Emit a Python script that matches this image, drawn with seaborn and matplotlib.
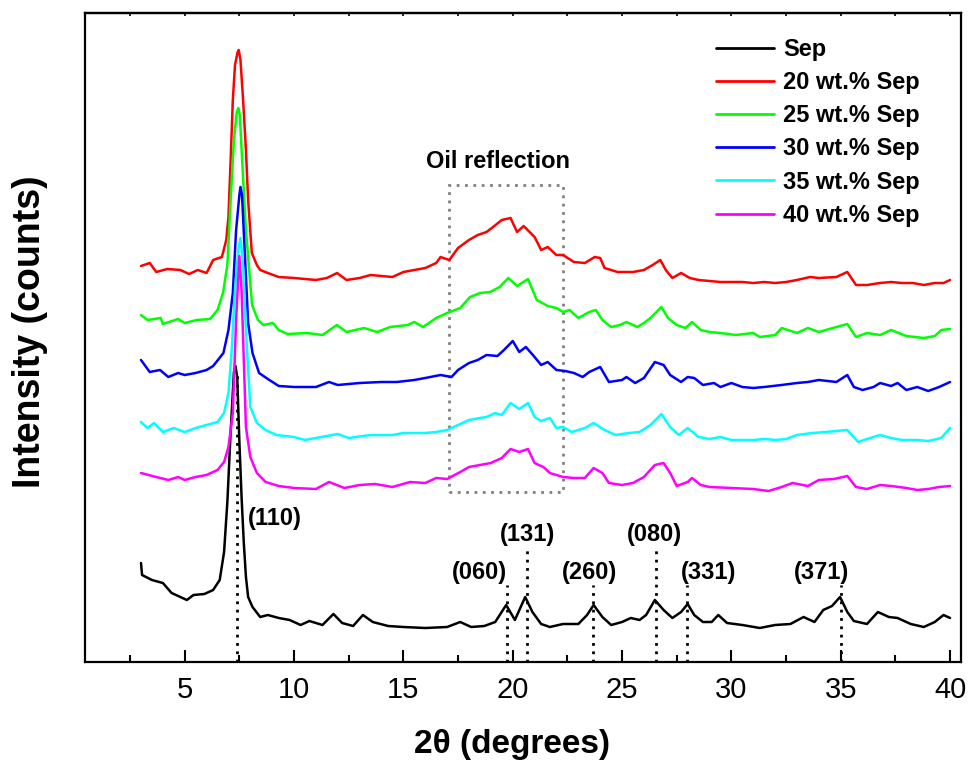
import numpy as np
import pandas as pd
import matplotlib
matplotlib.use("Agg")
import matplotlib.pyplot as plt
import seaborn as sns
from matplotlib.patches import Rectangle
from matplotlib.ticker import MultipleLocator

# ---------------- data (arbitrary intensity units) ----------------
samples = ["Sep", "20 wt.% Sep", "25 wt.% Sep", "30 wt.% Sep", "35 wt.% Sep", "40 wt.% Sep"]
colors = ["#000000", "#ff0000", "#00ff00", "#0000ff", "#00ffff", "#ff00ff"]

x_sep = [3.0, 3.05, 3.5, 4.0, 4.4, 4.8, 5.1, 5.4, 5.9, 6.3, 6.6, 6.8, 6.95, 7.1, 7.25, 7.32, 7.4, 7.5, 7.6, 7.7,
         7.8, 7.9, 8.1, 8.45, 8.8, 9.3, 9.8, 10.3, 10.7, 11.3, 11.8, 12.2, 12.7, 13.15, 13.6, 14.3, 15.0, 16.0, 17.0, 17.6,
         18.1, 18.7, 19.2, 19.7, 20.1, 20.57, 20.9, 21.3, 21.7, 22.3, 23.0, 23.4, 23.7, 24.1, 24.5, 25.0, 25.4, 25.8, 26.1, 26.5,
         26.9, 27.3, 27.7, 28.0, 28.3, 28.7, 29.1, 29.4, 29.8, 30.5, 31.3, 32.0, 32.7, 33.3, 33.8, 34.2, 34.6, 34.97, 35.3, 35.6,
         36.2, 36.7, 37.2, 37.6, 38.2, 38.8, 39.3, 39.7, 40.0]
y_sep = [99, 87, 82, 79, 69, 65, 62, 67, 68, 72, 82, 110, 160, 230, 290, 296, 285, 220, 165, 120,
         85, 65, 55, 45, 47, 44, 42, 37, 41, 37, 48, 39, 36, 47, 40, 36, 35, 34, 35, 40,
         35, 36, 40, 57, 42, 65, 50, 38, 35, 38, 38, 47, 57, 45, 37, 40, 44, 42, 47, 62,
         52, 44, 50, 58, 47, 40, 40, 47, 39, 37, 34, 37, 38, 45, 40, 52, 56, 65, 50, 41,
         38, 50, 45, 44, 38, 35, 40, 47, 44]

x_20 = [3.0, 3.4, 3.7, 4.2, 4.8, 5.2, 5.6, 6.0, 6.3, 6.7, 6.9, 7.0, 7.1, 7.2, 7.3, 7.42, 7.47, 7.55, 7.67, 7.8,
        7.9, 8.07, 8.3, 8.45, 8.8, 9.3, 10.0, 11.0, 11.5, 11.97, 12.4, 13.0, 13.5, 14.5, 15.0, 16.0, 16.5, 16.7, 17.1, 17.5,
        18.0, 18.4, 18.8, 19.1, 19.5, 19.9, 20.2, 20.5, 21.0, 21.3, 21.6, 22.0, 22.3, 22.8, 23.3, 23.75, 24.0, 24.2, 24.8, 25.5,
        26.0, 26.4, 26.75, 27.0, 27.3, 27.7, 28.1, 28.5, 29.5, 30.5, 31.0, 31.5, 32.0, 32.5, 33.0, 33.6, 34.0, 34.8, 35.3, 35.7,
        36.2, 36.8, 37.3, 37.8, 38.3, 38.8, 39.3, 39.7, 40.0]
y_20 = [396, 399, 390, 393, 392, 388, 392, 389, 402, 405, 422, 445, 502, 562, 597, 610, 612, 602, 562, 512,
        462, 409, 397, 392, 389, 385, 384, 382, 384, 389, 382, 384, 387, 385, 390, 394, 399, 405, 402, 414,
        422, 427, 430, 435, 442, 444, 430, 436, 425, 412, 415, 407, 407, 400, 399, 405, 404, 394, 390, 390,
        392, 397, 402, 392, 384, 389, 384, 382, 380, 380, 379, 380, 379, 380, 382, 385, 384, 385, 390, 377,
        377, 379, 380, 379, 379, 377, 379, 379, 382]

x_25 = [3.0, 3.3, 3.9, 4.0, 4.7, 5.0, 5.55, 6.16, 6.5, 6.75, 6.95, 7.1, 7.25, 7.38, 7.45, 7.52, 7.65, 7.8, 7.95, 8.08,
        8.35, 8.6, 9.04, 9.3, 9.7, 10.6, 11.3, 11.96, 12.4, 13.2, 13.8, 14.4, 15.2, 15.5, 15.9, 16.5, 17.0, 17.6, 18.05, 18.5,
        18.97, 19.4, 19.8, 20.2, 20.7, 21.1, 21.6, 22.0, 22.3, 22.6, 23.0, 23.5, 23.8, 24.1, 24.5, 24.9, 25.2, 25.7, 26.0, 26.3,
        26.8, 27.1, 27.5, 27.9, 28.2, 28.6, 29.0, 29.5, 30.2, 31.0, 31.3, 32.0, 32.3, 33.0, 33.5, 34.0, 34.8, 35.3, 35.7, 36.2,
        36.8, 37.3, 38.0, 38.8, 39.3, 39.6, 40.0]
y_25 = [347, 342, 344, 338, 343, 339, 342, 343, 352, 369, 397, 462, 522, 550, 554, 547, 492, 432, 392, 357,
        342, 337, 339, 332, 328, 329, 327, 337, 330, 334, 330, 335, 337, 340, 335, 344, 349, 354, 365, 369,
        370, 375, 384, 376, 383, 362, 356, 354, 350, 352, 344, 350, 352, 342, 335, 337, 340, 335, 339, 344,
        355, 344, 337, 334, 340, 332, 330, 329, 327, 329, 325, 327, 334, 329, 334, 330, 335, 338, 325, 329,
        327, 332, 326, 324, 326, 332, 333]

x_30 = [3.0, 3.4, 3.87, 4.25, 4.7, 5.0, 5.5, 6.0, 6.3, 6.77, 7.0, 7.2, 7.35, 7.5, 7.55, 7.62, 7.72, 7.9, 8.1, 8.4,
        8.8, 9.3, 10.0, 11.0, 11.6, 12.0, 13.0, 14.0, 14.7, 15.5, 16.0, 16.7, 17.2, 17.5, 18.0, 18.4, 18.8, 19.3, 19.6, 20.0,
        20.3, 20.6, 21.0, 21.3, 21.6, 22.0, 22.4, 22.8, 23.2, 23.5, 24.0, 24.4, 25.0, 25.2, 25.6, 26.0, 26.5, 26.9, 27.2, 27.7,
        28.0, 28.3, 28.7, 29.2, 29.5, 30.0, 30.5, 31.0, 31.5, 32.3, 33.0, 33.5, 34.0, 34.8, 35.3, 35.6, 36.0, 36.5, 36.8, 37.3,
        37.6, 38.0, 38.5, 39.0, 39.5, 40.0]
y_30 = [302, 290, 292, 285, 289, 287, 289, 292, 296, 309, 332, 369, 432, 467, 475, 467, 422, 339, 309, 289,
        283, 276, 275, 275, 280, 277, 279, 280, 280, 282, 284, 287, 285, 292, 299, 302, 307, 306, 312, 321,
        310, 315, 305, 297, 300, 292, 291, 289, 285, 290, 295, 280, 282, 285, 279, 284, 300, 297, 287, 280,
        285, 284, 277, 279, 275, 279, 275, 274, 275, 277, 279, 280, 282, 280, 287, 275, 272, 275, 279, 276,
        279, 272, 275, 271, 275, 280]

x_35 = [3.0, 3.3, 3.6, 4.0, 4.5, 5.0, 5.5, 6.0, 6.5, 6.8, 7.0, 7.15, 7.3, 7.45, 7.55, 7.65, 7.8, 8.0, 8.3, 8.7,
        9.2, 10.0, 10.5, 11.5, 12.0, 12.5, 13.5, 14.5, 15.0, 16.0, 16.5, 17.0, 17.5, 18.0, 18.5, 18.8, 19.2, 19.5, 19.9, 20.3,
        20.7, 21.0, 21.3, 21.7, 22.0, 22.3, 22.7, 23.0, 23.3, 23.7, 24.2, 24.7, 25.3, 25.8, 26.3, 26.8, 27.2, 27.6, 28.0, 28.5,
        29.0, 29.5, 30.0, 31.0, 31.5, 32.0, 32.5, 33.0, 33.7, 34.3, 35.3, 35.8, 36.2, 36.8, 37.3, 37.8, 38.5, 39.0, 39.6, 40.0]
y_35 = [240, 234, 239, 230, 234, 230, 234, 237, 240, 249, 269, 312, 372, 412, 424, 402, 332, 255, 239, 232,
        227, 225, 222, 226, 228, 224, 227, 227, 229, 229, 230, 232, 237, 242, 244, 245, 249, 247, 259, 253,
        259, 245, 241, 244, 234, 235, 230, 232, 234, 239, 232, 227, 229, 230, 237, 248, 235, 227, 234, 225,
        223, 225, 222, 222, 223, 222, 223, 227, 229, 230, 232, 220, 223, 227, 224, 222, 222, 221, 224, 234]

x_40 = [3.0, 3.7, 4.25, 4.7, 5.0, 5.5, 6.0, 6.5, 6.8, 7.0, 7.2, 7.35, 7.5, 7.6, 7.8, 8.0, 8.3, 8.7, 9.3, 10.0,
        11.0, 11.6, 12.3, 13.0, 13.7, 14.5, 15.3, 16.0, 16.5, 17.0, 17.6, 18.0, 18.5, 19.0, 19.5, 19.9, 20.3, 20.7, 21.0, 21.4,
        21.7, 22.0, 22.3, 22.8, 23.3, 23.7, 24.1, 24.4, 25.0, 25.5, 26.0, 26.5, 26.9, 27.2, 27.5, 28.0, 28.2, 28.6, 29.0, 30.0,
        31.0, 31.7, 32.3, 32.8, 33.5, 34.0, 34.7, 35.3, 35.7, 36.2, 36.8, 37.3, 38.0, 38.5, 39.0, 39.5, 40.0]
y_40 = [189, 185, 182, 185, 182, 185, 187, 192, 200, 215, 249, 342, 406, 372, 235, 205, 189, 180, 176, 174,
        173, 180, 174, 177, 178, 175, 180, 179, 184, 183, 190, 195, 197, 199, 204, 213, 210, 213, 199, 195,
        189, 187, 185, 184, 184, 194, 189, 179, 177, 179, 185, 197, 199, 189, 176, 180, 184, 177, 175, 174,
        173, 171, 175, 179, 176, 182, 183, 186, 175, 173, 177, 176, 174, 172, 173, 175, 176]

# Sepiolite reflections: label, position, top of dotted line, label position
hkl_labels = ["(110)", "(060)", "(131)", "(260)", "(080)", "(331)", "(371)"]
hkl_pos = [7.38, 19.73, 20.64, 23.66, 26.55, 27.97, 35.0]
hkl_line_top = [290, 77, 112, 77, 112, 77, 77]
hkl_text_x = [7.9, 18.5, 20.66, 23.52, 26.5, 28.96, 34.13]
hkl_text_y = [144, 90, 127, 90, 127, 90, 90]

oil_box_x = [17.09, 22.3]
oil_box_y = [170, 477]

# ---------------- build table ----------------
series_x = [x_sep, x_20, x_25, x_30, x_35, x_40]
series_y = [y_sep, y_20, y_25, y_30, y_35, y_40]
frames = []
for name, xs, ys in zip(samples, series_x, series_y):
    frames.append(pd.DataFrame({"angle": xs, "intensity": ys, "sample": name}))
df = pd.concat(frames, ignore_index=True)

# ---------------- plot ----------------
sns.set_style("ticks")
plt.rcParams["font.family"] = ["Liberation Sans", "DejaVu Sans"]
plt.rcParams["text.color"] = "black"
plt.rcParams["axes.labelcolor"] = "black"
plt.rcParams["xtick.color"] = "black"
plt.rcParams["ytick.color"] = "black"
plt.rcParams["axes.edgecolor"] = "black"

fig = plt.figure(figsize=(9.71, 7.67), dpi=100)
ax = fig.add_axes([85 / 971, 1 - 662 / 767, 876 / 971, 649 / 767])

sns.lineplot(data=df, x="angle", y="intensity", hue="sample", hue_order=samples,
             palette=dict(zip(samples, colors)), estimator=None, sort=False,
             linewidth=1.8, ax=ax)

# dotted reference lines and hkl labels
for lab, xp, top, tx, ty in zip(hkl_labels, hkl_pos, hkl_line_top, hkl_text_x, hkl_text_y):
    ax.plot([xp, xp], [0, top], color="black", linestyle=(0, (1, 2)), linewidth=2.0, zorder=1)
    ha = "left" if lab == "(110)" else "center"
    ax.text(tx, ty, lab, ha=ha, va="center", fontsize=17, fontweight="bold", color="black")

# oil reflection box
rect = Rectangle((oil_box_x[0], oil_box_y[0]), oil_box_x[1] - oil_box_x[0], oil_box_y[1] - oil_box_y[0],
                 fill=False, edgecolor="#808080", linestyle=(0, (1, 2)), linewidth=2.0, zorder=0.5)
ax.add_patch(rect)
ax.text(19.31, 500, "Oil reflection", ha="center", va="center", fontsize=17, fontweight="bold", color="black")

ax.set_xlim(0.44, 40.5)
ax.set_ylim(0, 649)
ax.xaxis.set_major_locator(MultipleLocator(5))
ax.xaxis.set_minor_locator(MultipleLocator(2.5))
ax.set_xticks([5, 10, 15, 20, 25, 30, 35, 40])
ax.set_yticks([])
ax.tick_params(axis="x", which="major", direction="in", length=9, width=1.5, labelsize=21, pad=10,
               top=False, colors="black", labelcolor="black")
ax.tick_params(axis="x", which="minor", direction="in", length=5, width=1.5, top=False, colors="black")
for sp in ax.spines.values():
    sp.set_linewidth(1.6)
    sp.set_color("black")

sec = ax.secondary_xaxis("top")
sec.xaxis.set_major_locator(MultipleLocator(5))
sec.xaxis.set_minor_locator(MultipleLocator(2.5))
sec.tick_params(axis="x", which="both", direction="in", length=2.5, width=1.2, labeltop=False, colors="black")
sec.spines["top"].set_linewidth(1.6)
sec.spines["top"].set_color("black")

ax.set_xlabel("2θ (degrees)", fontsize=24, fontweight="bold", color="black")
ax.xaxis.set_label_coords((512 - 85) / 876, (662 - 745) / 649)
ax.xaxis.label.set_va("center")
ax.set_ylabel("Intensity (counts)", fontsize=27, fontweight="bold", color="black")
ax.yaxis.set_label_coords((30 - 85) / 876, (662 - 332) / 649)
ax.yaxis.label.set_va("center")

handles, labels = ax.get_legend_handles_labels()
leg = ax.legend(handles, labels, loc="upper left",
                bbox_to_anchor=((716 - 85) / 876, (662 - 38) / 649),
                frameon=False, prop={"weight": "bold", "size": 17},
                handlelength=2.45, handletextpad=0.4, labelspacing=0.43,
                borderpad=0, borderaxespad=0)
for line in leg.get_lines():
    line.set_linewidth(2.0)
for t in leg.get_texts():
    t.set_color("black")

fig.savefig("out.png", dpi=100)
